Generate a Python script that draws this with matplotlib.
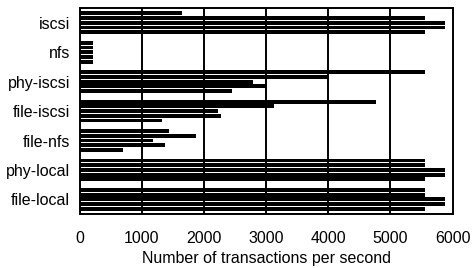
import matplotlib
matplotlib.use("Agg")
import matplotlib.pyplot as plt
import numpy as np

categories = ["iscsi", "nfs", "phy-iscsi", "file-iscsi", "file-nfs", "phy-local", "file-local"]
# five runs per configuration (transactions per second), top to bottom inside each group
run1 = [1640, 210, 5555, 4760, 1440, 5555, 5555]
run2 = [5555, 210, 4000, 3130, 1865, 5555, 5555]
run3 = [5875, 210, 2785, 2225, 1180, 5875, 5875]
run4 = [5875, 210, 3015, 2270, 1375, 5875, 5875]
run5 = [5555, 210, 2445, 1320, 705, 5555, 5555]
runs = [run1, run2, run3, run4, run5]
xticks = [0, 1000, 2000, 3000, 4000, 5000, 6000]

plt.rcParams["font.family"] = ["Liberation Sans", "DejaVu Sans"]
fig = plt.figure(figsize=(4.74, 2.68), dpi=100)
ax = fig.add_axes([0.168, 0.201, 0.787, 0.769])

ypos = np.arange(len(categories))
step = 0.16
h = 0.13
for j, r in enumerate(runs):
    ax.barh(ypos + (j - 2) * step, r, height=h, color="black", zorder=3)

ax.set_xlim(0, 6000)
ax.set_ylim(len(categories) - 0.5, -0.5)
ax.set_xticks(xticks)
ax.set_xticklabels([str(t) for t in xticks])
ax.set_yticks(ypos)
ax.set_yticklabels(categories)
ax.tick_params(axis="x", length=0, pad=12, labelsize=11.5)
ax.tick_params(axis="y", length=0, pad=7, labelsize=11.5)
for xv in xticks[1:-1]:
    ax.axvline(xv, color="black", lw=1.4, zorder=2)
for s in ax.spines.values():
    s.set_linewidth(1.4)
    s.set_color("black")
ax.set_xlabel("Number of transactions per second", fontsize=11.5, labelpad=4)

fig.savefig("out.png", dpi=100)
